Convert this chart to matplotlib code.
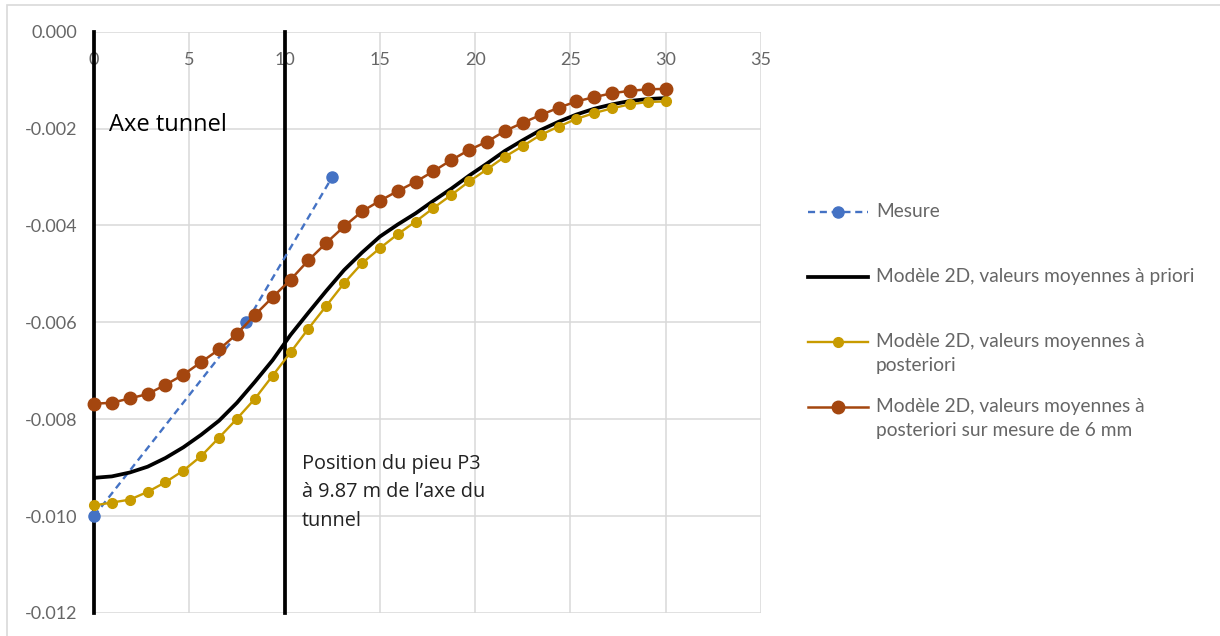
import numpy as np
import matplotlib
matplotlib.use('Agg')
import matplotlib.pyplot as plt
from matplotlib.lines import Line2D
from matplotlib.patches import Rectangle


# distance to tunnel axis (m) for the model curves
x_model = [0, 0.9375, 1.875, 2.8125, 3.75, 4.6875, 5.625, 6.5625, 7.5, 8.4375,
           9.375, 10.3125, 11.25, 12.1875, 13.125, 14.0625, 15, 15.9375, 16.875,
           17.8125, 18.75, 19.6875, 20.625, 21.5625, 22.5, 23.4375, 24.375,
           25.3125, 26.25, 27.1875, 28.125, 29.0625, 30]

# measured settlement
x_mesure = [0, 8, 12.5]
y_mesure = [-0.010, -0.006, -0.003]

# 2D model, mean values a priori (smooth line)
y_priori = [-0.00921, -0.00918, -0.00910, -0.00898, -0.00880, -0.00858, -0.00832,
            -0.00803, -0.00766, -0.00723, -0.00678, -0.00626, -0.00580, -0.00535,
            -0.00492, -0.00456, -0.00423, -0.00398, -0.00375, -0.00349, -0.00324,
            -0.00297, -0.00272, -0.00246, -0.00224, -0.00203, -0.00186, -0.00171,
            -0.00159, -0.00150, -0.00143, -0.00139, -0.00137]

# 2D model, mean values a posteriori
y_post = [-0.00978, -0.00972, -0.00966, -0.00950, -0.00930, -0.00906, -0.00876,
          -0.00838, -0.00799, -0.00758, -0.00710, -0.00662, -0.00613, -0.00566,
          -0.00519, -0.00478, -0.00447, -0.00418, -0.00392, -0.00364, -0.00337,
          -0.00309, -0.00284, -0.00258, -0.00236, -0.00213, -0.00196, -0.00180,
          -0.00168, -0.00158, -0.00150, -0.00145, -0.00144]

# 2D model, a posteriori on 6 mm measurement
y_post6 = [-0.00768, -0.00766, -0.00757, -0.00748, -0.00729, -0.00708, -0.00682,
           -0.00656, -0.00624, -0.00585, -0.00548, -0.00512, -0.00472, -0.00436,
           -0.00402, -0.00371, -0.00349, -0.00329, -0.00310, -0.00288, -0.00265,
           -0.00244, -0.00227, -0.00205, -0.00188, -0.00172, -0.00157, -0.00144,
           -0.00135, -0.00127, -0.00122, -0.00119, -0.00118]

# vertical reference lines: tunnel axis and pile P3 (drawn on the 10 m gridline)
x_axe = 0
x_pieu = 10

labels = ['Mesure',
          'Modèle 2D, valeurs moyennes à priori',
          'Modèle 2D, valeurs moyennes à\nposteriori',
          'Modèle 2D, valeurs moyennes à\nposteriori sur mesure de 6 mm']

C_BLUE  = '#4472C4'
C_GOLD  = '#C89B00'
C_BROWN = '#A4460F'
C_GRID  = '#D9D9D9'
C_TEXT  = '#666666'

W, H = 1220, 636
fig = plt.figure(figsize=(W / 100, H / 100), dpi=100)
ax = fig.add_axes([94 / W, 1 - 613 / H, (761 - 94) / W, (613 - 31.7) / H])

# outer chart frame
fig.add_artist(Rectangle((7 / W, -0.01), 1.1, 1 - 5 / H + 0.01, transform=fig.transFigure,
                         fill=False, edgecolor=C_GRID, linewidth=1.2))

ax.set_xlim(0, 35)
ax.set_ylim(-0.012, 0)
ax.set_xticks(range(0, 36, 5))
yt = np.arange(-0.012, 0.0001, 0.002)
ax.set_yticks(yt)
ax.set_yticklabels([f'{v:.3f}' for v in yt])
ax.grid(True, color=C_GRID, linewidth=1.1)
ax.set_axisbelow(True)
for s in ax.spines.values():
    s.set_visible(False)

ax.xaxis.set_ticks_position('top')
ax.tick_params(axis='x', length=0, pad=-26, labelsize=13, labelcolor=C_TEXT)
ax.tick_params(axis='y', length=0, pad=12, labelsize=13, labelcolor=C_TEXT)
for lab in ax.get_xticklabels() + ax.get_yticklabels():
    lab.set_fontfamily('Lato')

# vertical lines
ax.plot([x_axe, x_axe], [0, -0.012], color='black', linewidth=2.7, zorder=2, clip_on=False)
ax.plot([x_pieu, x_pieu], [0, -0.012], color='black', linewidth=2.7, zorder=2, clip_on=False)

ax.plot(x_mesure, y_mesure, '--o', color=C_BLUE, linewidth=1.7, markersize=8,
        dashes=(3, 2), zorder=3, clip_on=False)
ax.plot(x_model, y_priori, '-', color='black', linewidth=2.7, zorder=4)
ax.plot(x_model, y_post, '-o', color=C_GOLD, linewidth=1.7, markersize=7,
        zorder=5, clip_on=False)
ax.plot(x_model, y_post6, '-o', color=C_BROWN, linewidth=1.8, markersize=9,
        zorder=6, clip_on=False)

ax.text(0.8, -0.00192, 'Axe tunnel', fontsize=17, family='Open Sans',
        va='center', ha='left', color='black')
ax.text(10.9, -0.00872, "Position du pieu P3\nà 9.87 m de l’axe du\ntunnel",
        fontsize=14.3, family='Open Sans', va='top', ha='left', color='#222222',
        linespacing=1.55)

# legend drawn by hand so handles sit on the first text line
leg_y = [212, 277, 342, 407]
styles = [dict(color=C_BLUE, linestyle='--', dashes=(3, 2), marker='o', markersize=8, lw=1.7),
          dict(color='black', linestyle='-', marker=None, lw=2.7),
          dict(color=C_GOLD, linestyle='-', marker='o', markersize=7, lw=1.7),
          dict(color=C_BROWN, linestyle='-', marker='o', markersize=9, lw=1.8)]
for yy, st, lab in zip(leg_y, styles, labels):
    yf = 1 - yy / H
    mk = st.pop('marker')
    ms = st.pop('markersize', 0)
    fig.add_artist(Line2D([808 / W, 868 / W], [yf, yf], transform=fig.transFigure, **st))
    if mk:
        fig.add_artist(Line2D([838 / W], [yf], transform=fig.transFigure, marker=mk,
                              markersize=ms, color=st['color'], linestyle='none'))
    fig.text(876 / W, yf + 9 / H, lab, fontsize=13.8, family='Lato', color=C_TEXT,
             va='top', ha='left', linespacing=1.52)

fig.savefig('out.png', dpi=100)
